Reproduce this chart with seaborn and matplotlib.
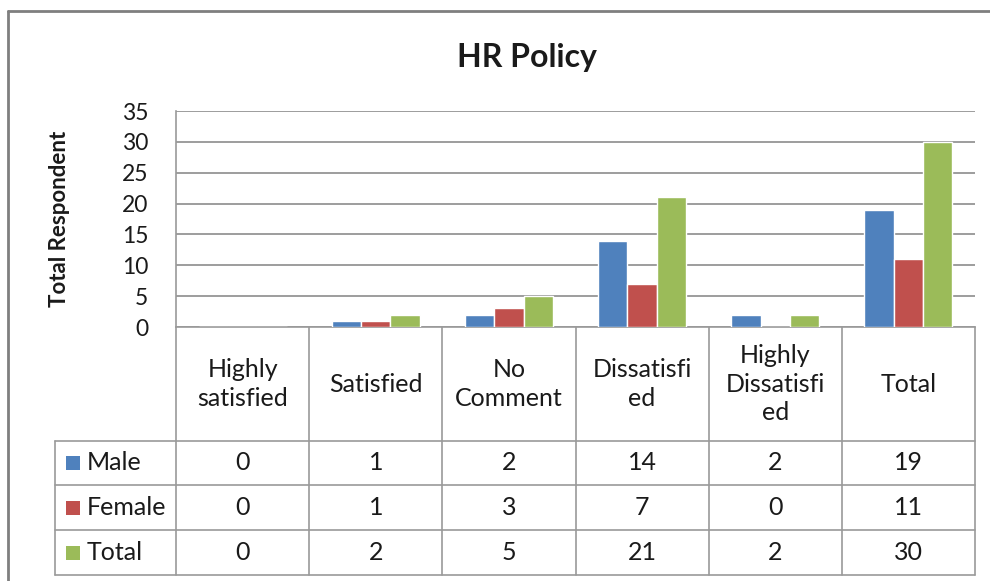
import matplotlib
matplotlib.use("Agg")
import matplotlib.pyplot as plt
import seaborn as sns
import pandas as pd
from matplotlib.patches import Rectangle
from matplotlib.lines import Line2D

categories = ["Highly satisfied", "Satisfied", "No Comment", "Dissatisfied",
              "Highly Dissatisfied", "Total"]
cat_labels = ["Highly\nsatisfied", "Satisfied", "No\nComment", "Dissatisfi\ned",
              "Highly\nDissatisfi\ned", "Total"]
series = ["Male", "Female", "Total"]
male = [0, 1, 2, 14, 2, 19]
female = [0, 1, 3, 7, 0, 11]
total = [0, 2, 5, 21, 2, 30]
colors = ["#4F81BD", "#C0504D", "#9BBB59"]
yticks = [0, 5, 10, 15, 20, 25, 30, 35]

values = {"Male": male, "Female": female, "Total": total}
df = pd.DataFrame([
    {"Category": c, "Series": s, "Value": values[s][i]}
    for s in series for i, c in enumerate(categories)
])

sns.set_theme(style="white")
FONT = "Lato"
plt.rcParams["font.family"] = [FONT, "DejaVu Sans"]
FS = 18
TXT = "#1a1a1a"
LINE = "#9a9a9a"

W, H = 990, 581
fig = plt.figure(figsize=(W / 100, H / 100), dpi=100)
fig.patch.set_facecolor("white")

def fx(px):
    return px / W

def fy(py):
    return 1 - py / H

ax_l, ax_r, ax_t, ax_b = 176, 975, 111, 327
ax = fig.add_axes([fx(ax_l), fy(ax_b), fx(ax_r - ax_l), (ax_b - ax_t) / H])

sns.barplot(data=df, x="Category", y="Value", hue="Series", order=categories,
            hue_order=series, palette=colors, width=0.66, gap=0,
            saturation=1, errorbar=None, ax=ax, legend=False, zorder=3)

ax.set_xlim(-0.5, len(categories) - 0.5)
ax.set_ylim(0, 35)
ax.set_yticks(yticks)
ax.set_yticklabels([str(v) for v in yticks], fontsize=16.5, color=TXT)
ax.set_xticks([])
ax.set_xlabel("")
ax.set_ylabel("Total Respondent", fontsize=16, fontweight="bold", color=TXT)
ax.yaxis.set_label_coords(-0.133, 0.5)
ax.tick_params(axis="y", length=0, pad=20)
ax.yaxis.grid(True, color="#8c8c8c", linewidth=1.2, zorder=0)
for side in ["left", "bottom"]:
    ax.spines[side].set_color(LINE)
    ax.spines[side].set_linewidth(1.2)
ax.spines["right"].set_visible(False)
ax.spines["top"].set_visible(False)

# title
fig.text(fx(527), fy(57), "HR Policy", ha="center", va="center",
         fontsize=23, fontweight="bold", color=TXT)

# data table beneath the chart, aligned with category slots
tr = ax.get_xaxis_transform()
ah = ax_b - ax_t

def yax(py):
    return (ax_b - py) / ah

row_edges = [441, 485, 530, 575]
leg_left = -0.5 - (ax_l - 55) / ((ax_r - ax_l) / len(categories))
n = len(categories)

def hline(x0, x1, py):
    ax.add_line(Line2D([x0, x1], [yax(py), yax(py)], transform=tr, color=LINE,
                       linewidth=1.2, clip_on=False))

def vline(x, py0, py1):
    ax.add_line(Line2D([x, x], [yax(py0), yax(py1)], transform=tr, color=LINE,
                       linewidth=1.2, clip_on=False))

for py in row_edges:
    hline(leg_left, n - 0.5, py)
for i in range(n + 1):
    vline(i - 0.5, ax_b, row_edges[-1])
vline(leg_left, row_edges[0], row_edges[-1])

for i, lab in enumerate(cat_labels):
    ax.text(i, yax((ax_b + row_edges[0]) / 2), lab, transform=tr, ha="center",
            va="center", fontsize=FS, color=TXT, linespacing=1.3,
            clip_on=False)

for r, s in enumerate(series):
    yc = yax((row_edges[r] + row_edges[r + 1]) / 2)
    for i, v in enumerate(values[s]):
        ax.text(i, yc, str(v), transform=tr, ha="center", va="center",
                fontsize=FS, color=TXT, clip_on=False)
    # legend key
    fig.patches.append(Rectangle((fx(66), fy((row_edges[r] + row_edges[r + 1]) / 2 + 7)),
                                 fx(14), 14 / H, transform=fig.transFigure,
                                 facecolor=colors[r], edgecolor="none"))
    fig.text(fx(87), fy((row_edges[r] + row_edges[r + 1]) / 2), s,
             ha="left", va="center", fontsize=FS, color=TXT)

# chart border
fig.add_artist(Line2D([fx(8), fx(8)], [fy(11), 0], transform=fig.transFigure,
                      color="#7f7f7f", linewidth=2))
fig.add_artist(Line2D([fx(8), 1], [fy(11), fy(11)], transform=fig.transFigure,
                      color="#7f7f7f", linewidth=2))

fig.savefig("out.png", dpi=100)
